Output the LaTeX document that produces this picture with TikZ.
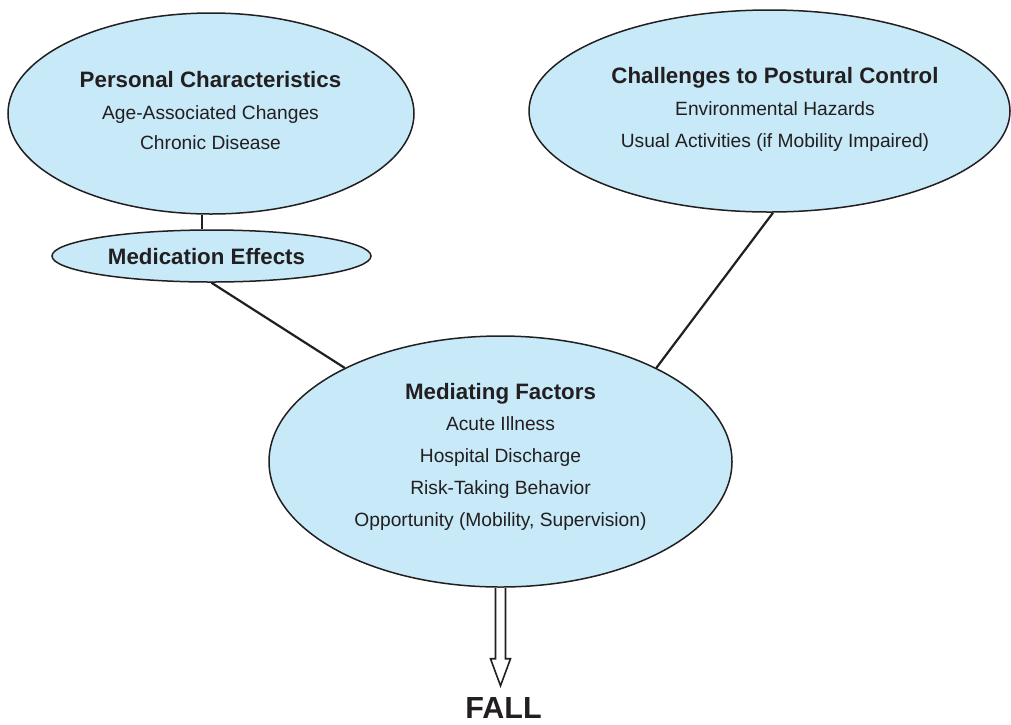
\documentclass[tikz,border=0pt]{standalone}
\usepackage{fontspec}
\setmainfont{Liberation Sans}
\usetikzlibrary{calc,shapes.geometric}
\definecolor{ellfill}{RGB}{199,233,248}
\definecolor{ink}{RGB}{35,31,32}
\begin{document}
\begin{tikzpicture}[x=1pt,y=-1pt,
  ell/.style={ellipse, draw=ink, line width=1.5pt, fill=ellfill, inner sep=0pt},
  ttl/.style={font=\bfseries\fontsize{22.3}{26}\selectfont, text=ink, anchor=base, inner sep=0pt},
  itm/.style={font=\fontsize{19.2}{23}\selectfont, text=ink, anchor=base, inner sep=0pt},
  conn/.style={draw=ink, line width=2.2pt},
  fallarrow/.style={draw=ink, line width=1.6pt, fill=white, line join=miter}]
\useasboundingbox (0,0) rectangle (1011,724);
% ellipses
\node[ell, minimum width=406pt, minimum height=201pt] (pc) at (211,113.5) {};
\node[ell, minimum width=319pt, minimum height=52pt] (me) at (211.5,256) {};
\node[ell, minimum width=481pt, minimum height=202pt] (cp) at (769.5,111) {};
\node[ell, minimum width=463pt, minimum height=251pt] (mf) at (500.5,461.5) {};
% connectors
\draw[conn] ([xshift=-9pt]pc.south) -- ([xshift=-9.5pt]me.north);
\draw[conn] (me.south) -- (mf.149.6);
\draw[conn] ([xshift=3.5pt]cp.south) -- (mf.31);
% texts
\node[ttl] (pct) at (210.5,87.3) {Personal Characteristics};
\node[itm] (pc1) at (210.5,119.3) {Age-Associated Changes};
\node[itm] (pc2) at (210.5,149.5) {Chronic Disease};
\node[ttl] (met) at (206.5,264.3) {Medication Effects};
\node[ttl] (cpt) at (775,83.3) {Challenges to Postural Control};
\node[itm] (cp1) at (775,115.7) {Environmental Hazards};
\node[itm] (cp2) at (775,147) {Usual Activities (if Mobility Impaired)};
\node[ttl] (mft) at (500.5,399) {Mediating Factors};
\node[itm] (mf1) at (500.5,430) {Acute Illness};
\node[itm] (mf2) at (500.5,462.3) {Hospital Discharge};
\node[itm] (mf3) at (500.5,494.3) {Risk-Taking Behavior};
\node[itm] (mf4) at (500.5,526) {Opportunity (Mobility, Supervision)};
\node[font=\bfseries\fontsize{30.5}{34}\selectfont, text=ink, anchor=base, inner sep=0pt] (fall) at (503.5,718.5) {FALL};
% hollow arrow from mediating factors to FALL
\coordinate (tip) at ($(mf.south)+(0,98)$);
\draw[fallarrow] ($(mf.south)+(-5,0)$) -- ($(mf.south)+(-5,71)$) -- ($(mf.south)+(-10,71)$)
  -- (tip) -- ($(mf.south)+(10,71)$) -- ($(mf.south)+(5,71)$) -- ($(mf.south)+(5,0)$);
\end{tikzpicture}
\end{document}
